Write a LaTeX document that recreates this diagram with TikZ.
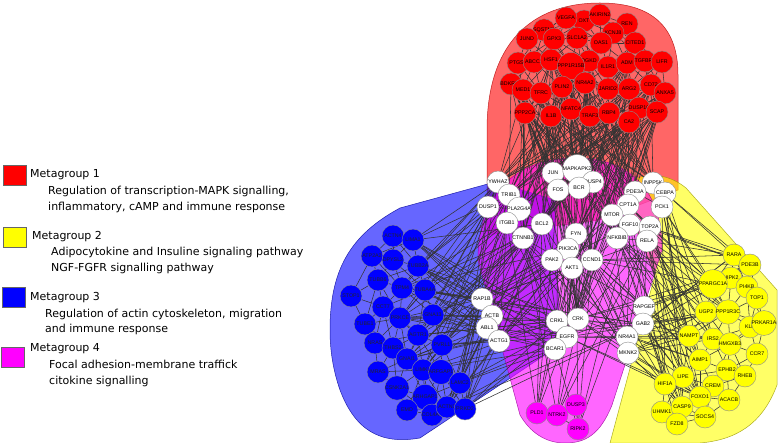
\documentclass[tikz,border=0pt]{standalone}
\usepackage{fontspec}
\setmainfont{DejaVu Sans}
\newfontfamily\genefont{Liberation Sans}
\usetikzlibrary{backgrounds}
\pgfdeclarelayer{hulls}
\pgfsetlayers{hulls,background,main}
\definecolor{mgred}{RGB}{255,0,0}
\definecolor{mgyellow}{RGB}{255,255,0}
\definecolor{mgblue}{RGB}{0,0,255}
\definecolor{mgpink}{RGB}{255,0,255}
\tikzset{
  gene/.style={circle, draw=black!45, line width=0.4pt, minimum size=22pt,
               inner sep=0pt, font=\genefont\fontsize{5.3}{6}\selectfont},
  redgene/.style={gene, fill=mgred},
  whitegene/.style={gene, fill=white},
  bluegene/.style={gene, fill=mgblue, text=black!85},
  yellowgene/.style={gene, fill=mgyellow},
  pinkgene/.style={gene, fill=mgpink},
  link/.style={draw=black!80, line width=0.55pt},
  zone/.style={fill opacity=0.6, draw opacity=0.8, line width=0.5pt},
  keybox/.style={rectangle, draw=black!60, minimum width=23pt,
                 minimum height=20pt, inner sep=0pt},
  keytitle/.style={anchor=west, inner sep=0pt, font=\fontsize{11}{15.5}\selectfont},
  keytext/.style={keytitle, align=left},
}
% gene / x / y (pixels, y downwards)
\newcommand\redgenes{OXT/584/21, VEGFA/566/18, AKIRIN2/600/15, REN/627/24,
  SQSTM1/544/30, KCNJ8/613/33, JUND/527/39, GPX3/554/39, SLC1A2/577/38,
  OAS1/601/43, CITED1/635/43, PTGS2/518/63, ABCC3/534/62, HSF1/551/60,
  DGKD/589/61, PPP1R15B/571/66, IL1R1/608/67, ADM/627/63, TGFBR3/645/61,
  LIFR/662/62, BDKRB2/511/84, MED1/523/90, TFRC/541/93, PLIN2/562/87,
  NR4A2/585/83, JARID2/608/89, ARG2/629/89, CD72/651/85, ANXA5/665/93,
  PPP2CA/525/113, IL1B/551/116, NFATC4/571/109, TRAF3/590/116, RBP4/609/113,
  DUSP10/639/108, SCAP/657/112, CA2/629/122}
\newcommand\whitegenes{JUN/553/173, MAPKAPK2/577/169, DUSP4/593/182,
  FOS/558/190, BCR/579/188, YWHAZ/498/182, TRIB1/509/195, DUSP1/488/207,
  PLA2G4A/519/209, ITGB1/507/223, BCL2/542/224, CTNNB1/523/238, FYN/576/234,
  PIK3CA/568/249, PAK2/552/260, CCND1/592/260, AKT1/572/268, INPP5K/653/183,
  PDE3A/635/192, CEBPA/665/193, CPT1A/628/205, PCK1/662/207, MTOR/612/215,
  FGF10/630/225, TOP2A/650/227, NFKBIB/617/238, RELA/647/241, RAP1B/482/299,
  ACTB/492/316, ABL1/487/328, ACTG1/499/341, CRKL/557/321, CRK/578/319,
  EGFR/567/337, BCAR1/555/349, RAPGEF/644/307, GAB2/643/324, NR4A1/627/337,
  MKNK2/628/353}
\newcommand\yellowgenes{RARA/734/255, PDE3B/750/265, HIPK2/731/278,
  PPARGC1A/713/284, PI4KB/747/287, TOP1/757/298, UGP2/706/312,
  PPP1R3C/728/312, KLB/750/327, PRKAR1A/764/323, NAMPT/689/336, IRS2/713/339,
  HMGXB3/730/344, CCR7/757/354, AIMP1/700/360, EPHB2/727/370, RHEB/745/376,
  LIPE/683/377, HIF1A/665/384, CREM/713/386, FOXO1/700/397, ACACB/729/400,
  UHMK1/662/412, CASP9/682/407, SOCS4/705/417, FZD8/677/424}
\newcommand\bluegenes{ACTN4/393/236, LIMA1/413/240, ATP2A2/372/256,
  DPYSL2/393/260, TUBB2A/418/266, TUBB6/378/280, TPM4/402/288,
  TUBA4A/425/290, STOP1/351/296, CCT7/383/307, PRKCE/400/318, GNA13/433/315,
  TUBE1/365/324, AGTR1/418/335, NRAS/375/343, THBS2/393/348, PVRL1/442/345,
  GNAI1/407/359, MRAS/378/372, LIMK1/423/370, ARFGAP1/441/372, LAMC2/460/383,
  CSNK2A1/397/388, ARHGAP1/425/397, EMD/407/410, COL4A1/432/415,
  ACTN1/447/407, PRKD2/465/409}
\newcommand\pinkgenes{PLD1/537/413, NTRK2/557/415, DUSP3/576/405, RIPK2/578/429}

\begin{document}
\begin{tikzpicture}[x=1pt, y=-1pt]
  \useasboundingbox (0,0) rectangle (778,443);

  % legend
  \node[keybox, fill=mgred] (key1) at (14.5,175) {};
  \node[keytitle] (title1) at (30,175) {Metagroup 1};
  \node[keytext] (text1) at (48,199.5) {Regulation of transcription-MAPK signalling,\\inflammatory, cAMP and immune response};
  \node[keybox, fill=mgyellow] (key2) at (15,237) {};
  \node[keytitle] (title2) at (32,237) {Metagroup 2};
  \node[keytext] (text2) at (51,260.5) {Adipocytokine and Insuline signaling pathway\\NGF-FGFR signalling pathway};
  \node[keybox, fill=mgblue] (key3) at (13.5,297.5) {};
  \node[keytitle] (title3) at (30,298) {Metagroup 3};
  \node[keytext] (text3) at (45,322) {Regulation of actin cytoskeleton, migration\\and immune response};
  \node[keybox, fill=mgpink] (key4) at (13,357.5) {};
  \node[keytitle] (title4) at (30,349) {Metagroup 4};
  \node[keytext] (text4) at (49,373.5) {Focal adhesion-membrane traffick\\citokine signalling};

  % genes
  \foreach \n/\x/\y in \redgenes \node[redgene] (\n) at (\x,\y) {\n};
  \foreach \n/\x/\y in \yellowgenes \node[yellowgene] (\n) at (\x,\y) {\n};
  \foreach \n/\x/\y in \bluegenes \node[bluegene] (\n) at (\x,\y) {\n};
  \foreach \n/\x/\y in \pinkgenes \node[pinkgene] (\n) at (\x,\y) {\n};
  \foreach \n/\x/\y in \whitegenes \node[whitegene] (\n) at (\x,\y) {\n};

  % metagroup areas
  \begin{pgfonlayer}{hulls}
    \filldraw[zone, fill=mgred, draw=mgred!70!black]
      (487,235) -- (487,130) .. controls (487,45) and (530,3) .. (600,3)
      .. controls (650,3) and (678,25) .. (678,75) -- (678,190) -- (600,220) -- cycle;
    \filldraw[zone, fill=mgyellow, draw=mgyellow!60!black]
      (626,190) .. controls (630,174) and (662,168) .. (686,188) -- (777,290)
      -- (777,385) .. controls (762,425) and (735,440) .. (700,443) -- (610,443)
      -- (655,275) .. controls (640,235) and (622,210) .. (626,190);
    \filldraw[zone, fill=mgblue, draw=mgblue!60!black]
      (330,330) .. controls (330,270) and (350,235) .. (400,208) -- (495,182)
      -- (555,200) -- (560,345) -- (420,438) .. controls (380,445) and (355,430) .. (340,390)
      .. controls (333,370) and (330,350) .. (330,330);
    \filldraw[zone, fill=mgpink, draw=mgpink!60!black]
      (478,260) .. controls (478,190) and (520,158) .. (575,158)
      .. controls (630,158) and (662,190) .. (662,250) -- (612,405)
      .. controls (600,435) and (585,443) .. (565,443)
      .. controls (545,443) and (530,432) .. (520,415) -- cycle;
  \end{pgfonlayer}

  \begin{pgfonlayer}{background}
    % links inside each metagroup
    \foreach \a/\xa/\ya [count=\i] in \redgenes
      \foreach \b/\xb/\yb [count=\j] in \redgenes {
        \pgfmathtruncatemacro\near{(\i<\j)*(veclen(\xa-\xb,\ya-\yb)<46)}
        \ifnum\near=1 \draw[link] (\a) -- (\b); \fi
      }
    \foreach \a/\xa/\ya [count=\i] in \yellowgenes
      \foreach \b/\xb/\yb [count=\j] in \yellowgenes {
        \pgfmathtruncatemacro\near{(\i<\j)*(veclen(\xa-\xb,\ya-\yb)<46)}
        \ifnum\near=1 \draw[link] (\a) -- (\b); \fi
      }
    \foreach \a/\xa/\ya [count=\i] in \bluegenes
      \foreach \b/\xb/\yb [count=\j] in \bluegenes {
        \pgfmathtruncatemacro\near{(\i<\j)*(veclen(\xa-\xb,\ya-\yb)<46)}
        \ifnum\near=1 \draw[link] (\a) -- (\b); \fi
      }
    \foreach \a/\xa/\ya [count=\i] in \whitegenes
      \foreach \b/\xb/\yb [count=\j] in \whitegenes {
        \pgfmathtruncatemacro\near{(\i<\j)*(veclen(\xa-\xb,\ya-\yb)<34)}
        \ifnum\near=1 \draw[link] (\a) -- (\b); \fi
      }
    \draw[link] (PLD1) -- (NTRK2) -- (DUSP3) -- (RIPK2) -- (NTRK2);

    % red to the core
    \foreach \a [count=\i] in {BDKRB2,MED1,TFRC,PLIN2,NR4A2,JARID2,ARG2,CD72,ANXA5,
        PPP2CA,IL1B,NFATC4,TRAF3,RBP4,CA2,DUSP10,SCAP,PPP1R15B,DGKD,IL1R1,HSF1,ADM}
      \foreach \b [count=\j] in {YWHAZ,TRIB1,JUN,MAPKAPK2,FOS,BCR,DUSP4,PLA2G4A,BCL2,
          FYN,PIK3CA,AKT1,MTOR,CPT1A,PDE3A,INPP5K,NFKBIB,FGF10,CTNNB1,CCND1,CRK,EGFR} {
        \pgfmathtruncatemacro\pick{mod(\i*\j+3*\i+\j,7)}
        \ifnum\pick<3 \draw[link] (\a) -- (\b); \fi
      }
    % blue to the core
    \foreach \a [count=\i] in {LIMA1,ACTN4,TUBB2A,TUBA4A,GNA13,PVRL1,AGTR1,LIMK1,
        ARFGAP1,LAMC2,PRKD2,ACTN1,TPM4,GNAI1,PRKCE,DPYSL2}
      \foreach \b [count=\j] in {YWHAZ,TRIB1,DUSP1,ITGB1,PLA2G4A,CTNNB1,BCL2,RAP1B,
          ACTB,ABL1,ACTG1,PAK2,PIK3CA,CRKL,EGFR,BCAR1,CRK,GAB2} {
        \pgfmathtruncatemacro\pick{mod(\i*\j+2*\i+5*\j,7)}
        \ifnum\pick<3 \draw[link] (\a) -- (\b); \fi
      }
    % yellow to the core
    \foreach \a [count=\i] in {RARA,PPARGC1A,HIPK2,UGP2,NAMPT,IRS2,AIMP1,LIPE,HIF1A,
        UHMK1,CASP9,FOXO1,PPP1R3C,PDE3B}
      \foreach \b [count=\j] in {PCK1,TOP2A,RELA,CEBPA,NFKBIB,FGF10,MTOR,CPT1A,RAPGEF,
          GAB2,NR4A1,MKNK2,AKT1,CCND1,EGFR,CRK} {
        \pgfmathtruncatemacro\pick{mod(\i*\j+\i+4*\j,7)}
        \ifnum\pick<3 \draw[link] (\a) -- (\b); \fi
      }
    % core to the middle
    \foreach \a [count=\i] in {CRKL,CRK,EGFR,BCAR1,RAP1B,ACTB,ACTG1,RAPGEF,GAB2,NR4A1,
        MKNK2,PLD1,NTRK2,DUSP3,RIPK2}
      \foreach \b [count=\j] in {FYN,PIK3CA,PAK2,AKT1,CCND1,CTNNB1,BCL2,NFKBIB,MTOR,
          FGF10,RELA,ITGB1,JUN,FOS} {
        \pgfmathtruncatemacro\pick{mod(\i*\j+2*\i+\j,5)}
        \ifnum\pick<2 \draw[link] (\a) -- (\b); \fi
      }
  \end{pgfonlayer}
\end{tikzpicture}
\end{document}
